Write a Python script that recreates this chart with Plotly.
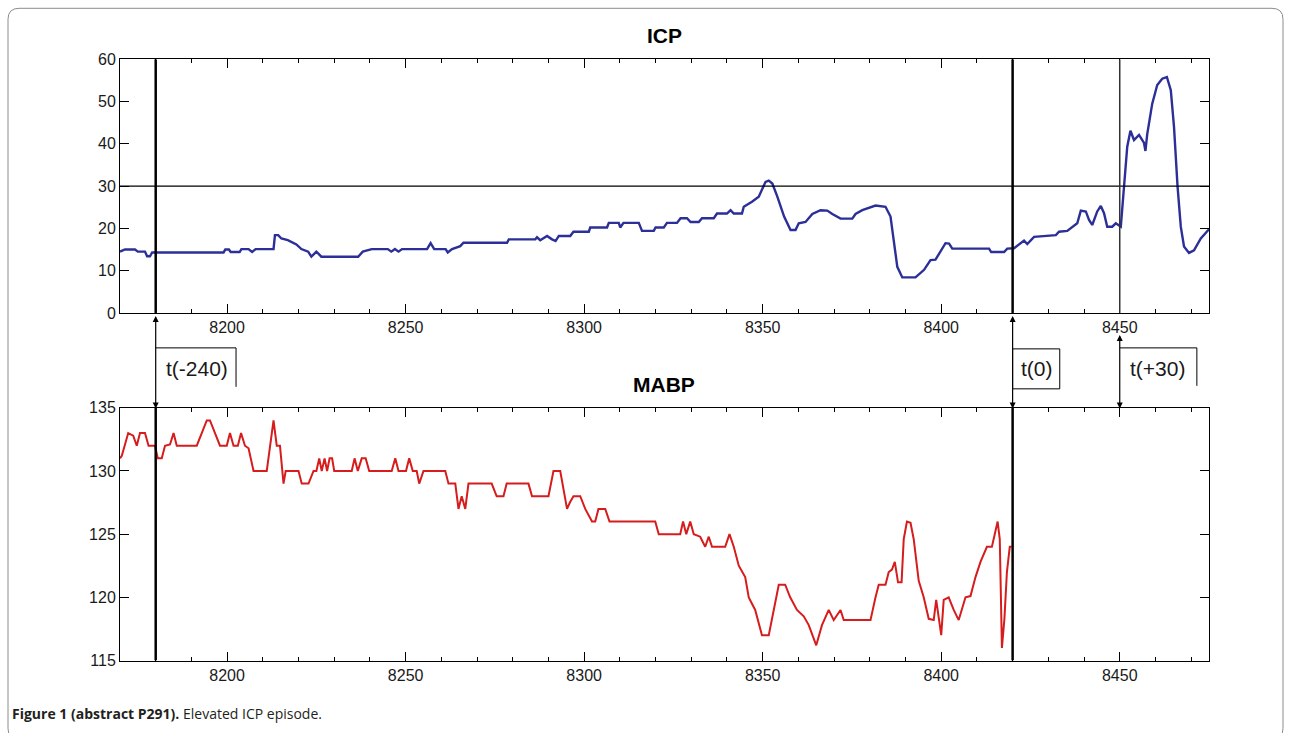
import plotly.graph_objects as go

# ICP (mmHg)
icp_t = [8170, 8171.4, 8174.2, 8175, 8177, 8177.6, 8178.4, 8179, 8199, 8199.5, 8200.5, 8201, 8203.5,
         8204, 8206, 8207, 8208, 8213, 8213.4, 8214.3, 8215.2, 8217, 8219.4, 8220.8, 8222.7, 8223.6,
         8225, 8226.4, 8236.7, 8238, 8240.5, 8245, 8246, 8247, 8248, 8249, 8256, 8257, 8258, 8261.2,
         8261.8, 8263, 8265.3, 8266.2, 8278.4, 8278.9, 8286.3, 8286.8, 8287.7, 8289.6, 8291, 8292,
         8292.9, 8296.1, 8297, 8301.3, 8301.7, 8306.4, 8306.9, 8309.7, 8310.1, 8311, 8315.3, 8316.2,
         8319.5, 8320, 8322.3, 8323.2, 8326, 8327, 8328.8, 8329.8, 8332.1, 8333, 8336.3, 8337.2, 8340,
         8341, 8341.9, 8344.2, 8344.7, 8347, 8348.9, 8349.8, 8350.8, 8351.7, 8352.7, 8354.1, 8356,
         8357.8, 8359.2, 8360.1, 8362, 8363.9, 8366.2, 8368.1, 8369.5, 8371.8, 8375.1, 8376, 8377.9,
         8381.6, 8384.4, 8385.8, 8386.8, 8387.7, 8389.1, 8392.8, 8395.2, 8397, 8398.4, 8399.8, 8401.2,
         8402.2, 8403.1, 8413.4, 8414, 8417.6, 8418.5, 8420.4, 8421.8, 8423.2, 8424.1, 8426, 8432.1,
         8433, 8435.3, 8436.7, 8438.1, 8439.1, 8440.5, 8441.4, 8442.3, 8443.7, 8444.7, 8445.6, 8446.5,
         8447.9, 8448.9, 8450.3, 8451.2, 8452.1, 8453, 8454, 8455.4, 8456.8, 8457.2, 8457.7, 8459.1,
         8460.5, 8461.9, 8463.2, 8464.3, 8465.2, 8466.2, 8467.1, 8468, 8469.4, 8470.8, 8472.7, 8475]
icp_v = [14.5, 15.0, 15.0, 14.5, 14.5, 13.4, 13.4, 14.3, 14.3, 15.0, 15.0, 14.4, 14.4,
         15.1, 15.1, 14.4, 15.1, 15.1, 18.4, 18.4, 17.6, 17.2, 16.2, 15.1, 14.5, 13.3,
         14.5, 13.3, 13.3, 14.5, 15.1, 15.1, 14.5, 15.1, 14.5, 15.1, 15.1, 16.5, 15.1, 15.1,
         14.3, 15.1, 15.8, 16.6, 16.6, 17.4, 17.4, 17.9, 17.2, 18.2, 17.4, 17.0,
         18.2, 18.2, 19.2, 19.2, 20.2, 20.2, 21.3, 21.3, 20.2, 21.3, 21.3, 19.4,
         19.4, 20.2, 20.2, 21.3, 21.3, 22.4, 22.4, 21.5, 21.5, 22.4, 22.4, 23.5, 23.5,
         24.3, 23.5, 23.5, 25.1, 26.3, 27.5, 29.1, 31.0, 31.3, 30.6, 27.5, 22.8,
         19.6, 19.6, 21.2, 21.5, 23.4, 24.3, 24.2, 23.4, 22.3, 22.3, 23.4, 24.3,
         25.4, 25.1, 22.8, 16.6, 10.9, 8.4, 8.4, 10.2, 12.5, 12.6, 14.5, 16.5,
         16.4, 15.2, 15.2, 14.4, 14.4, 15.2, 15.3, 16.1, 17.1, 16.3, 18.0, 18.4,
         19.2, 19.4, 20.4, 21.2, 24.2, 24.0, 22.0, 20.8, 24.0, 25.3, 23.6, 20.4,
         20.4, 21.2, 20.4, 29.8, 39.3, 43.1, 40.9, 42.1, 40.2, 38.3, 42.3, 49.5,
         53.9, 55.4, 55.8, 52.7, 44.0, 29.8, 20.4, 15.7, 14.2, 14.8, 17.6, 19.8]

# MABP (mmHg)
mabp_t = [8170, 8170.5, 8172.3, 8173.7, 8174.7, 8175.6, 8177, 8178, 8179.8, 8180.6, 8181.7, 8182.6,
          8184, 8185, 8185.9, 8191.5, 8192.9, 8194.3, 8195.2, 8196.6, 8198, 8199.9, 8200.8, 8201.8,
          8203, 8203.9, 8205, 8206, 8207.4, 8211.1, 8212, 8213, 8213.9, 8214.8, 8215.8, 8216.4, 8220,
          8220.9, 8222.8, 8224.2, 8225, 8225.8, 8226.5, 8227.3, 8228, 8228.7, 8229.4, 8230, 8234.9,
          8235.7, 8236.6, 8237.7, 8238.8, 8239.8, 8246.1, 8247.1, 8248, 8250.1, 8251, 8252, 8253.1,
          8253.8, 8255, 8261.1, 8262, 8263.9, 8264.8, 8265.7, 8266.7, 8267.6, 8274.1, 8275.5, 8277.4,
          8278.3, 8284.4, 8285.4, 8290, 8291.4, 8293.3, 8294.2, 8295.2, 8296, 8297, 8298.9, 8300.3,
          8302.2, 8303.1, 8304, 8305.9, 8307.1, 8319.9, 8320.9, 8326.9, 8327.7, 8328.6, 8329.7,
          8330.7, 8332.5, 8333.9, 8334.9, 8335.8, 8339.5, 8340.7, 8341.9, 8343.3, 8345.1, 8346.1,
          8347.9, 8349.8, 8351.7, 8353.1, 8354.5, 8356.3, 8357.7, 8359.6, 8361.5, 8362.9, 8365,
          8366.6, 8368.5, 8369.9, 8371.8, 8372.7, 8380.2, 8381.6, 8382.5, 8384.4, 8385.3, 8386.2,
          8387, 8387.9, 8388.9, 8389.5, 8390.4, 8391.4, 8392.3, 8393.7, 8395.1, 8396.5, 8397.9,
          8398.6, 8399.3, 8400, 8400.7, 8402.1, 8403.5, 8404.9, 8406.8, 8408.2, 8409.6, 8411,
          8412.8, 8414.2, 8415.8, 8416.4, 8417, 8417.7, 8418.4, 8419.2, 8419.7]
mabp_v = [131, 131.2, 133, 132.8, 132, 133, 133, 132, 132, 131, 131, 132,
          132.1, 133, 132, 132, 133, 134, 134, 133, 132, 132, 133, 132,
          132, 133, 132, 131.8, 130, 130, 132, 134, 132, 132, 129, 130, 130,
          129, 129, 130, 130, 131, 130, 131, 130, 131, 131, 130, 130,
          131, 130, 131, 131, 130, 130, 131, 130, 130, 131, 130, 130,
          129, 130, 130, 129, 129, 127, 128, 127, 129, 129, 128, 128,
          129, 129, 128, 128, 130, 130, 128.4, 127, 127.5, 128, 128, 127,
          126, 126, 127, 127, 126, 126, 125, 125, 126, 125, 126,
          125, 124.8, 124, 124.8, 124, 124, 125, 124, 122.5, 121.6, 120,
          119, 117, 117, 119, 121, 121, 120, 119, 118.5, 117.8, 116.2,
          117.8, 119, 118.2, 119, 118.2, 118.2, 120, 121, 121, 122, 122.2,
          122.8, 121.2, 121.2, 124.6, 126, 125.9, 124.6, 121.3, 120, 118.3, 118.2,
          119.8, 118.2, 117, 119.8, 120, 119, 118.2, 120, 120.1, 121.6, 122.8,
          124, 124, 126, 124.6, 116, 118.3, 122, 124, 124]

# event markers
t_m240, t_0, t_p30 = 8180, 8420, 8450
icp_threshold = 30

W, H = 1290, 733
# the captured page came out squeezed vertically (y_seen ~= 0.978*y + 7.7), so pre-compensate
SY, OY = 0.978, 7.7


def px(p):
    # window column -> paper x
    return p / W


def py(p):
    # window row -> paper y
    return 1 - ((p - OY) / SY) / H


fig = go.Figure()
fig.add_trace(go.Scatter(x=icp_t, y=icp_v, mode="lines", xaxis="x", yaxis="y",
                         line=dict(color="#2b2f97", width=2.4)))
fig.add_trace(go.Scatter(x=mabp_t, y=mabp_v, mode="lines", xaxis="x2", yaxis="y2",
                         line=dict(color="#d61c1c", width=2)))

tickfont = dict(family="Liberation Sans, Arial", size=16, color="#1a1a1a")
xax = dict(range=[8170, 8475], tick0=8200, dtick=50, ticks="inside", ticklen=9,
           tickcolor="black", showline=True, linecolor="black", linewidth=1,
           mirror="allticks", showgrid=False, zeroline=False, tickfont=tickfont,
           minor=dict(dtick=10, tick0=8200, ticks="inside", ticklen=4, tickcolor="black"),
           domain=[px(120), px(1209)])
yax = dict(ticks="inside", ticklen=9, tickcolor="black", showline=True, linecolor="black",
           linewidth=1, mirror="allticks", showgrid=False, zeroline=False, tickfont=tickfont)

fig.update_layout(
    width=W, height=H,
    margin=dict(l=0, r=0, t=0, b=0),
    paper_bgcolor="white", plot_bgcolor="white",
    showlegend=False,
    xaxis=dict(xax, anchor="y"),
    yaxis=dict(yax, range=[0, 60], dtick=10, domain=[py(313), py(59)], anchor="x"),
    xaxis2=dict(xax, anchor="y2"),
    yaxis2=dict(yax, range=[115, 135], dtick=5, domain=[py(661), py(408)], anchor="x2"),
)

black = dict(color="black", width=2.5)
thin = dict(color="black", width=1)
shapes = [
    # threshold and event lines in ICP panel
    dict(type="line", xref="x", yref="y", x0=8170, x1=8475, y0=icp_threshold, y1=icp_threshold,
         line=dict(color="black", width=1.2)),
    dict(type="line", xref="x", yref="y", x0=t_m240, x1=t_m240, y0=0, y1=60, line=black),
    dict(type="line", xref="x", yref="y", x0=t_0, x1=t_0, y0=0, y1=60, line=black),
    dict(type="line", xref="x", yref="y", x0=t_p30, x1=t_p30, y0=0, y1=60,
         line=dict(color="#333333", width=1.5)),
    # event lines in MABP panel
    dict(type="line", xref="x2", yref="y2", x0=t_m240, x1=t_m240, y0=115, y1=135, line=black),
    dict(type="line", xref="x2", yref="y2", x0=t_0, x1=t_0, y0=115, y1=135, line=black),
    # label frames
    dict(type="line", xref="x", yref="paper", x0=t_m240, x1=8202.5, y0=py(348), y1=py(348), line=thin),
    dict(type="line", xref="x", yref="paper", x0=8202.5, x1=8202.5, y0=py(348), y1=py(387), line=thin),
    dict(type="rect", xref="x", yref="paper", x0=t_0, x1=8433.2, y0=py(389), y1=py(349), line=thin),
    dict(type="line", xref="x", yref="paper", x0=t_p30, x1=8471.6, y0=py(348), y1=py(348), line=thin),
    dict(type="line", xref="x", yref="paper", x0=8471.6, x1=8471.6, y0=py(348), y1=py(386), line=thin),
]

# rounded outer frame of the figure panel
L, R, T, B, r = 8, 1283, 8, 740, 11
shapes.append(dict(
    type="path", xref="paper", yref="paper",
    path=(f"M {px(L)},{py(B - r)} L {px(L)},{py(T + r)} Q {px(L)},{py(T)} {px(L + r)},{py(T)} "
          f"L {px(R - r)},{py(T)} Q {px(R)},{py(T)} {px(R)},{py(T + r)} L {px(R)},{py(B - r)} "
          f"Q {px(R)},{py(B)} {px(R - r)},{py(B)} L {px(L + r)},{py(B)} Q {px(L)},{py(B)} {px(L)},{py(B - r)}"),
    line=dict(color="#8c8c8c", width=1)))

fig.update_layout(shapes=shapes)

arrow = dict(xref="x", yref="paper", text="", showarrow=True, arrowside="end+start",
             arrowhead=2, startarrowhead=2, arrowsize=1, startarrowsize=1,
             arrowwidth=1.2, arrowcolor="black", ax=0, ayref="pixel")
lab = dict(xref="x", yref="paper", showarrow=False, yanchor="middle",
           font=dict(family="Liberation Sans, Arial", size=21, color="#1a1a1a"))
ttl = dict(xref="paper", yref="paper", showarrow=False, yanchor="middle",
           font=dict(family="Liberation Sans, Arial", size=21, color="black"))

annotations = [
    dict(arrow, x=t_m240, y=py(316), ay=round((408 - 316) / SY)),
    dict(arrow, x=t_0, y=py(316), ay=round((408 - 316) / SY)),
    dict(arrow, x=t_p30, y=py(335), ay=round((408 - 335) / SY)),
    dict(lab, x=8191.5, y=py(369), text="t(-240)"),
    dict(lab, x=8426.7, y=py(369), text="t(0)"),
    dict(lab, x=8460.6, y=py(369), text="t(+30)"),
    dict(ttl, x=px(664), y=py(35), text="<b>ICP</b>"),
    dict(ttl, x=px(664), y=py(385), text="<b>MABP</b>"),
    dict(xref="paper", yref="paper", x=px(10), y=py(714), xanchor="left", yanchor="middle",
         showarrow=False,
         text="<b>Figure 1 (abstract P291).</b> Elevated ICP episode.",
         font=dict(family="Open Sans", size=14, color="#231f20")),
]
fig.update_layout(annotations=annotations)

fig.write_html("out.html", config={"displayModeBar": False},
               post_script="document.body.style.margin = '0px';")
